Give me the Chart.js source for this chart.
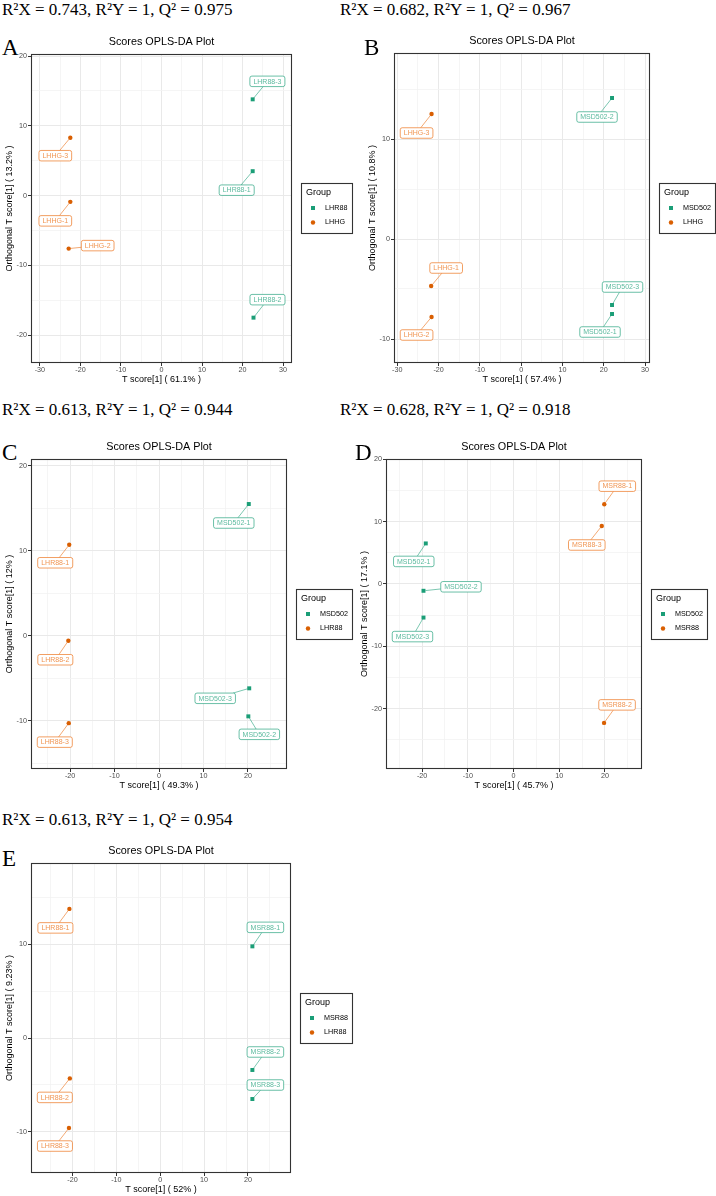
<!DOCTYPE html>
<html>
<head>
<meta charset="utf-8">
<script src="https://cdn.jsdelivr.net/npm/chart.js@4.4.1/dist/chart.umd.min.js"></script>
<style>
  body { margin: 0; background: #fff; }
  #page { position: relative; width: 716px; height: 1196px; overflow: hidden; background: #fff; }
  .stats { position: absolute; font-family: "Liberation Serif", "Times New Roman", serif; font-size: 17px; line-height: 17px; white-space: nowrap; color: #000; }
  .letter { position: absolute; font-family: "Liberation Serif", "Times New Roman", serif; font-size: 23px; line-height: 23px; color: #000; }
  canvas { position: absolute; }
</style>
</head>
<body>
<div id="page"></div>
<script>
// model statistics and axis titles, one per panel
const panelLetters = ['A', 'B', 'C', 'D', 'E'];
const statsLines = [
    'R²X = 0.743, R²Y = 1, Q² = 0.975',
    'R²X = 0.682, R²Y = 1, Q² = 0.967',
    'R²X = 0.613, R²Y = 1, Q² = 0.944',
    'R²X = 0.628, R²Y = 1, Q² = 0.918',
    'R²X = 0.613, R²Y = 1, Q² = 0.954'
];
const tScoreTitles = ['T score[1] ( 61.1% )', 'T score[1] ( 57.4% )', 'T score[1] ( 49.3% )', 'T score[1] ( 45.7% )', 'T score[1] ( 52% )'];
const orthoTitles = ['Orthogonal T score[1] ( 13.2% )', 'Orthogonal T score[1] ( 10.8% )', 'Orthogonal T score[1] ( 12% )', 'Orthogonal T score[1] ( 17.1% )', 'Orthogonal T score[1] ( 9.23% )'];

// A: LHR88 vs LHHG
const groupsA = ['LHR88', 'LHHG'];
const namesA1 = ['LHR88-1', 'LHR88-2', 'LHR88-3'];
const tA1 = [22.5, 22.7, 22.5];
const oA1 = [3.5, -17.5, 13.8];
const namesA2 = ['LHHG-1', 'LHHG-2', 'LHHG-3'];
const tA2 = [-22.5, -22.9, -22.5];
const oA2 = [-0.9, -7.6, 8.3];

// B: MSD502 vs LHHG
const groupsB = ['MSD502', 'LHHG'];
const namesB1 = ['MSD502-1', 'MSD502-2', 'MSD502-3'];
const tB1 = [22.0, 22.0, 22.0];
const oB1 = [-7.5, 14.1, -6.6];
const namesB2 = ['LHHG-1', 'LHHG-2', 'LHHG-3'];
const tB2 = [-21.8, -21.7, -21.7];
const oB2 = [-4.7, -7.8, 12.5];

// C: MSD502 vs LHR88
const groupsC = ['MSD502', 'LHR88'];
const namesC1 = ['MSD502-1', 'MSD502-2', 'MSD502-3'];
const tC1 = [20.2, 20.1, 20.3];
const oC1 = [15.5, -9.5, -6.2];
const namesC2 = ['LHR88-1', 'LHR88-2', 'LHR88-3'];
const tC2 = [-20.2, -20.4, -20.3];
const oC2 = [10.7, -0.6, -10.3];

// D: MSD502 vs MSR88
const groupsD = ['MSD502', 'MSR88'];
const namesD1 = ['MSD502-1', 'MSD502-2', 'MSD502-3'];
const tD1 = [-19.2, -19.7, -19.7];
const oD1 = [6.5, -1.1, -5.4];
const namesD2 = ['MSR88-1', 'MSR88-2', 'MSR88-3'];
const tD2 = [19.85, 19.8, 19.3];
const oD2 = [12.8, -22.3, 9.3];

// E: MSR88 vs LHR88
const groupsE = ['MSR88', 'LHR88'];
const namesE1 = ['MSR88-1', 'MSR88-2', 'MSR88-3'];
const tE1 = [21.0, 21.0, 21.0];
const oE1 = [9.8, -3.4, -6.5];
const namesE2 = ['LHR88-1', 'LHR88-2', 'LHR88-3'];
const tE2 = [-20.7, -20.6, -20.8];
const oE2 = [13.8, -4.3, -9.6];

const FONT = '"Liberation Sans", Arial, Helvetica, sans-serif';
const TEAL = '#1b9e77';
const ORANGE = '#d95f02';
const TEAL_LABEL = 'rgba(27,158,119,0.72)';
const ORANGE_LABEL = 'rgba(235,110,20,0.74)';

// label offsets (px from point to label centre), first group then second
const offsetsA = [[-16, 19], [14, -18], [14.7, -18], [-15, 19], [29, -3], [-15, 18]];
const offsetsB = [[-12, 18], [-15, 19], [10.5, -18], [15, -18], [-15, 18], [-15, 19]];
const offsetsC = [[-15, 19], [11, 18], [-34, 10], [-14, 18], [-13, 19], [-14, 19]];
const offsetsD = [[-12, 18], [37.5, -4], [-11, 19], [13, -18], [13, -18], [-15, 19]];
const offsetsE = [[13, -19], [13, -18], [13, -14], [-14, 19], [-15, 19], [-14, 18]];

const panels = [
    { area: [31, 54, 292, 363], xRange: [-32.2, 32.2], yRange: [-24.0, 20.3], statsPos: [2, 15], letterPos: [2, 55],
      groups: groupsA, n1: namesA1, t1: tA1, o1: oA1, n2: namesA2, t2: tA2, o2: oA2, offsets: offsetsA },
    { area: [394, 53, 650, 363], xRange: [-30.8, 31.2], yRange: [-12.4, 18.6], statsPos: [340, 15], letterPos: [364, 55],
      groups: groupsB, n1: namesB1, t1: tB1, o1: oB1, n2: namesB2, t2: tB2, o2: oB2, offsets: offsetsB },
    { area: [31, 459, 287, 769], xRange: [-28.8, 28.8], yRange: [-15.7, 20.8], statsPos: [2, 415], letterPos: [2, 460],
      groups: groupsC, n1: namesC1, t1: tC1, o1: oC1, n2: namesC2, t2: tC2, o2: oC2, offsets: offsetsC },
    { area: [386, 459, 642, 769], xRange: [-27.9, 28.1], yRange: [-29.7, 20.05], statsPos: [340, 415], letterPos: [355, 460],
      groups: groupsD, n1: namesD1, t1: tD1, o1: oD1, n2: namesD2, t2: tD2, o2: oD2, offsets: offsetsD },
    { area: [31, 863, 291, 1173], xRange: [-29.45, 29.8], yRange: [-14.4, 18.7], statsPos: [2, 825], letterPos: [2, 866],
      groups: groupsE, n1: namesE1, t1: tE1, o1: oE1, n2: namesE2, t2: tE2, o2: oE2, offsets: offsetsE }
];

const isMajor = v => Math.abs(v / 10 - Math.round(v / 10)) < 1e-6;

// dark frame round the plotting area
const panelBorder = {
    id: 'panelBorder',
    beforeDatasetsDraw(chart) {
        const { ctx, chartArea: a } = chart;
        ctx.save();
        ctx.strokeStyle = '#333333';
        ctx.lineWidth = 1.1;
        ctx.strokeRect(a.left + 0.5, a.top + 0.5, a.right - a.left - 1, a.bottom - a.top - 1);
        ctx.restore();
    }
};

function roundRect(ctx, x, y, w, h, r) {
    ctx.beginPath();
    ctx.moveTo(x + r, y);
    ctx.lineTo(x + w - r, y);
    ctx.arcTo(x + w, y, x + w, y + r, r);
    ctx.lineTo(x + w, y + h - r);
    ctx.arcTo(x + w, y + h, x + w - r, y + h, r);
    ctx.lineTo(x + r, y + h);
    ctx.arcTo(x, y + h, x, y + h - r, r);
    ctx.lineTo(x, y + r);
    ctx.arcTo(x, y, x + r, y, r);
    ctx.closePath();
}

// repel-style sample labels with a connector segment
const sampleLabels = {
    id: 'sampleLabels',
    afterDatasetsDraw(chart, args, opts) {
        const ctx = chart.ctx;
        ctx.save();
        ctx.font = '7px ' + FONT;
        ctx.textAlign = 'center';
        ctx.textBaseline = 'middle';
        let k = 0;
        chart.data.datasets.forEach((ds, di) => {
            const meta = chart.getDatasetMeta(di);
            meta.data.forEach((pt, i) => {
                const off = opts.offsets[k++];
                const text = ds.sampleNames[i];
                const w = ctx.measureText(text).width + 7;
                const h = 10.5;
                const cx = pt.x + off[0], cy = pt.y + off[1];
                const vx = pt.x - cx, vy = pt.y - cy;
                const s = Math.min(Math.abs((w / 2) / (vx || 1e-9)), Math.abs((h / 2) / (vy || 1e-9)));
                const ex = cx + vx * s, ey = cy + vy * s;
                const len = Math.hypot(ex - pt.x, ey - pt.y);
                if (len > 3) {
                    ctx.strokeStyle = ds.labelColor;
                    ctx.lineWidth = 0.8;
                    ctx.beginPath();
                    ctx.moveTo(pt.x + (ex - pt.x) * 2 / len, pt.y + (ey - pt.y) * 2 / len);
                    ctx.lineTo(ex, ey);
                    ctx.stroke();
                }
                roundRect(ctx, cx - w / 2, cy - h / 2, w, h, 2);
                ctx.fillStyle = '#ffffff';
                ctx.fill();
                ctx.strokeStyle = ds.labelColor;
                ctx.lineWidth = 0.9;
                ctx.stroke();
                ctx.fillStyle = ds.labelColor;
                ctx.fillText(text, cx, cy + 0.3);
            });
        });
        ctx.restore();
    }
};

// boxed "Group" legend to the right of the panel
const groupLegend = {
    id: 'groupLegend',
    afterDraw(chart) {
        const { ctx, chartArea } = chart;
        const ds = chart.data.datasets;
        ctx.save();
        ctx.font = '7.2px ' + FONT;
        const tw = Math.max(...ds.map(d => ctx.measureText(d.label).width));
        const w = Math.round(24 + tw + 4.5), h = 50;
        const x = Math.round(chartArea.right + 8.7);
        const y = Math.round((chartArea.top + chartArea.bottom) / 2 - h / 2 - 0.5);
        ctx.fillStyle = '#fff';
        ctx.fillRect(x, y, w, h);
        ctx.strokeStyle = '#333333';
        ctx.lineWidth = 1.1;
        ctx.strokeRect(x + 0.5, y + 0.5, w, h);
        ctx.textAlign = 'left';
        ctx.textBaseline = 'middle';
        ctx.fillStyle = '#000';
        ctx.font = '9px ' + FONT;
        ctx.fillText('Group', x + 5, y + 10);
        ds.forEach((d, i) => {
            const my = y + 25 + i * 14.5;
            ctx.fillStyle = d.backgroundColor;
            if (d.pointStyle === 'rect') {
                ctx.fillRect(x + 10, my - 2, 4, 4);
            } else {
                ctx.beginPath();
                ctx.arc(x + 12, my, 2.2, 0, Math.PI * 2);
                ctx.fill();
            }
            ctx.fillStyle = '#000';
            ctx.font = '7.2px ' + FONT;
            ctx.fillText(d.label, x + 24, my);
        });
        ctx.restore();
    }
};

function axisOptions(range, title, isX) {
    return {
        type: 'linear',
        position: isX ? 'bottom' : 'left',
        min: range[0],
        max: range[1],
        afterBuildTicks: s => {
            s.ticks = s.ticks.filter(t => Math.abs(t.value / 5 - Math.round(t.value / 5)) < 1e-6);
        },
        afterFit: s => {
            if (isX) s.height = 22; else s.width = 31;
        },
        ticks: {
            stepSize: 5,
            includeBounds: false,
            autoSkip: false,
            maxRotation: 0,
            padding: isX ? 0 : 1,
            color: '#4d4d4d',
            font: { family: FONT, size: 7.2 },
            callback: v => (isMajor(v) ? String(Math.round(v)) : '')
        },
        grid: {
            color: c => (c.tick && isMajor(c.tick.value) ? '#e9e9e9' : '#f3f3f3'),
            lineWidth: c => (c.tick && isMajor(c.tick.value) ? 1 : 0.8),
            tickLength: 3,
            tickColor: c => (c.tick && isMajor(c.tick.value) ? '#333333' : 'rgba(0,0,0,0)'),
            tickWidth: 1
        },
        border: { display: false },
        title: {
            display: true,
            text: title,
            color: '#000',
            font: { family: FONT, size: 9, lineHeight: 1.2 },
            padding: isX ? { top: 0, bottom: 0 } : { top: 4.5, bottom: 0 }
        }
    };
}

function makePanel(p, idx) {
    const page = document.getElementById('page');
    const [L, T, R, B] = p.area;

    const stats = document.createElement('div');
    stats.className = 'stats';
    stats.textContent = statsLines[idx];
    stats.style.left = p.statsPos[0] + 'px';
    stats.style.top = (p.statsPos[1] - 14.25) + 'px';
    page.appendChild(stats);

    const letter = document.createElement('div');
    letter.className = 'letter';
    letter.textContent = panelLetters[idx];
    letter.style.left = p.letterPos[0] + 'px';
    letter.style.top = (p.letterPos[1] - 19.26) + 'px';
    page.appendChild(letter);

    const canvas = document.createElement('canvas');
    const width = (R - L) + 31 + 72;
    const height = (B - T) + 20 + 22;
    canvas.width = width;
    canvas.height = height;
    canvas.style.left = (L - 31) + 'px';
    canvas.style.top = (T - 20) + 'px';
    canvas.style.width = width + 'px';
    canvas.style.height = height + 'px';
    page.appendChild(canvas);

    new Chart(canvas.getContext('2d'), {
        type: 'scatter',
        data: {
            datasets: [
                {
                    label: p.groups[0],
                    data: p.t1.map((t, i) => ({ x: t, y: p.o1[i] })),
                    sampleNames: p.n1,
                    labelColor: TEAL_LABEL,
                    pointStyle: 'rect',
                    pointRadius: 2.8,
                    backgroundColor: TEAL,
                    borderWidth: 0
                },
                {
                    label: p.groups[1],
                    data: p.t2.map((t, i) => ({ x: t, y: p.o2[i] })),
                    sampleNames: p.n2,
                    labelColor: ORANGE_LABEL,
                    pointStyle: 'circle',
                    pointRadius: 2.2,
                    backgroundColor: ORANGE,
                    borderWidth: 0
                }
            ]
        },
        options: {
            responsive: false,
            animation: false,
            devicePixelRatio: 1,
            layout: { padding: { left: 0, top: 0, right: 72, bottom: 0 } },
            plugins: {
                legend: { display: false },
                tooltip: { enabled: false },
                title: {
                    display: true,
                    fullSize: false,
                    text: 'Scores OPLS-DA Plot',
                    color: '#000',
                    font: { family: FONT, size: 10.8, weight: 'normal', lineHeight: 1 },
                    padding: { top: 3, bottom: 6.2 }
                },
                sampleLabels: { offsets: p.offsets }
            },
            scales: {
                x: axisOptions(p.xRange, tScoreTitles[idx], true),
                y: axisOptions(p.yRange, orthoTitles[idx], false)
            }
        },
        plugins: [panelBorder, sampleLabels, groupLegend]
    });
}

panels.forEach((p, i) => makePanel(p, i));
</script>
</body>
</html>
